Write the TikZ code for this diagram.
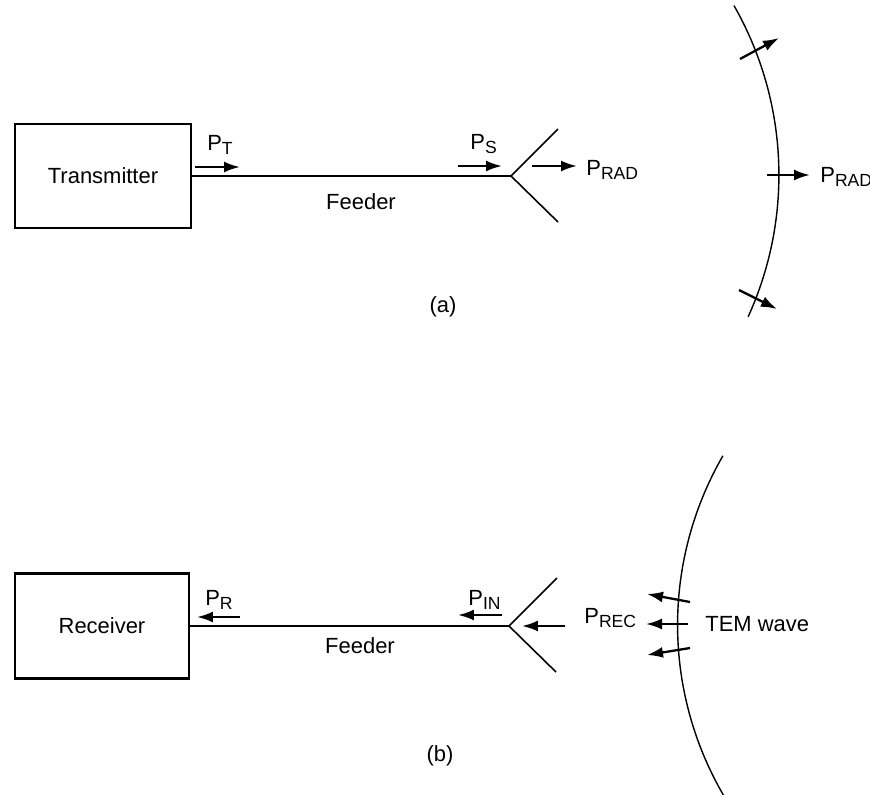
\documentclass[tikz,border=0pt]{standalone}
\usepackage{fontspec}
\setmainfont{Liberation Sans}
\usetikzlibrary{arrows.meta}
\newcommand{\pwr}[1]{P\raisebox{-2.8pt}{\fontsize{10}{12}\selectfont #1}}
\tikzset{
  unit/.style={draw, line width=1.2pt, inner sep=0pt},
  flow/.style={line width=1.3pt, -{Latex[length=3.2mm,width=2.2mm]}},
  lbl/.style={inner sep=0pt, anchor=base west},
  wire/.style={line width=0.9pt},
}
\begin{document}
\begin{tikzpicture}[x=0.02cm,y=-0.02cm, font=\fontsize{12.5}{14}\selectfont]
\useasboundingbox (0,0) rectangle (870,795);
% (a) transmitting antenna
\node[unit, minimum width=3.52cm, minimum height=2.08cm] (tx) at (103,176) {Transmitter};
\coordinate (J1) at (511,176);
\coordinate (J1u) at (558,129);
\coordinate (J1d) at (558,222);
\draw[wire] (tx.east) -- (J1);
\draw[wire] (J1u) -- (J1) -- (J1d);
\node (feedA) at (361,202) {Feeder};
\draw[flow] (195,167) -- (240,167);
\node[lbl] (PT) at (207,150) {\pwr{T}};
\draw[flow] (458,166) -- (502,166);
\node[lbl] (PS) at (470,149) {\pwr{S}};
\draw[flow] (532,166) -- (577,166);
\node[lbl] (PRADa) at (586,175) {\pwr{RAD}};
% wavefront
\coordinate (C1) at (437,175);
\draw[line width=0.8pt] (C1) ++(29.7:6.84cm) arc[start angle=29.7, end angle=-24.5, radius=6.84cm];
\draw[flow] (740,59) -- (779,38);
\draw[flow] (767,175) -- (810,175);
\draw[flow] (739,290) -- (777,309);
\node[lbl] (PRADb) at (820,182) {\pwr{RAD}};
\node (capA) at (443,307) {(a)};
% (b) receiving antenna
\node[unit, minimum width=3.48cm, minimum height=2.1cm] (rx) at (102,626) {Receiver};
\coordinate (J2) at (509,626);
\coordinate (J2u) at (557,578);
\coordinate (J2d) at (556,672);
\draw[wire] (rx.east) -- (J2);
\draw[wire] (J2u) -- (J2) -- (J2d);
\node (feedB) at (360,646) {Feeder};
\draw[flow] (240,617) -- (197,617);
\node[lbl] (PR) at (205,605) {\pwr{R}};
\draw[flow] (502,615) -- (458,615);
\node[lbl] (PIN) at (468,605) {\pwr{IN}};
\draw[flow] (565,626) -- (522,626);
\node[lbl] (PREC) at (584,623) {\pwr{REC}};
% incoming wavefront
\coordinate (C2) at (1016,625);
\draw[line width=0.8pt] (C2) ++(150:6.77cm) arc[start angle=150, end angle=211, radius=6.77cm];
\draw[flow] (690,602) -- (647,594);
\draw[flow] (688,624) -- (646,624);
\draw[flow] (690,648) -- (647,655);
\node[lbl] (tem) at (705,631) {TEM wave};
\node (capB) at (440,756) {(b)};
\end{tikzpicture}
\end{document}
